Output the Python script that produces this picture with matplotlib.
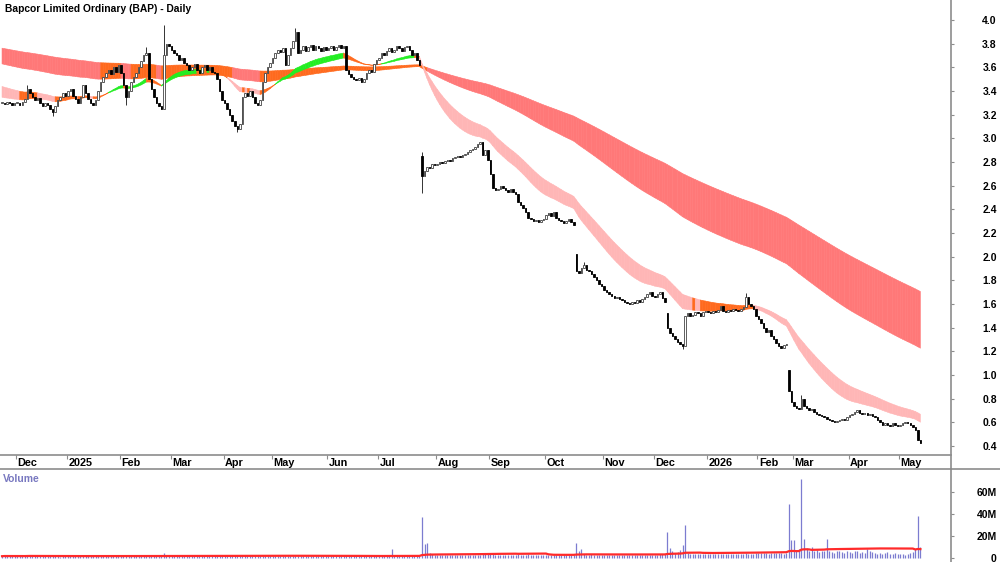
import numpy as np
import pandas as pd
import matplotlib
matplotlib.use("Agg")
import matplotlib.pyplot as plt
from matplotlib.collections import PolyCollection
from matplotlib.lines import Line2D

plt.rcParams['font.family'] = ['Liberation Sans', 'DejaVu Sans']

# daily closes, one list per month
close_nov24 = [3.30, 3.29, 3.31, 3.30, 3.28, 3.30]
close_dec24 = [3.30, 3.28, 3.31, 3.33, 3.42, 3.38, 3.35, 3.32, 3.34, 3.30,
               3.27, 3.30, 3.28, 3.25, 3.22, 3.27, 3.32, 3.35, 3.38, 3.36]
close_jan25 = [3.40, 3.42, 3.36, 3.33, 3.30, 3.35, 3.45, 3.38, 3.33, 3.30, 3.28,
               3.32, 3.40, 3.48, 3.52, 3.55, 3.58, 3.54, 3.60, 3.56, 3.62]
close_feb25 = [3.55, 3.45, 3.35, 3.40, 3.48, 3.52, 3.55, 3.60, 3.65, 3.70,
               3.72, 3.50, 3.42, 3.35, 3.30, 3.27, 3.25, 3.70, 3.80, 3.78]
close_mar25 = [3.75, 3.72, 3.70, 3.66, 3.68, 3.64, 3.62, 3.58, 3.60, 3.63, 3.58,
               3.55, 3.60, 3.62, 3.58, 3.60, 3.56, 3.55, 3.50, 3.40, 3.32]
close_apr25 = [3.30, 3.25, 3.20, 3.15, 3.10, 3.08, 3.12, 3.35, 3.38, 3.36,
               3.40, 3.35, 3.30, 3.28, 3.32, 3.48, 3.55, 3.60, 3.64]
close_may25 = [3.68, 3.72, 3.75, 3.73, 3.76, 3.62, 3.70, 3.76, 3.82, 3.90, 3.72,
               3.75, 3.78, 3.74, 3.77, 3.79, 3.75, 3.78, 3.76, 3.74, 3.77, 3.75]
close_jun25 = [3.76, 3.78, 3.75, 3.77, 3.79, 3.76, 3.78, 3.58, 3.54, 3.52,
               3.50, 3.49, 3.51, 3.48, 3.50, 3.55, 3.58, 3.56, 3.63, 3.66]
close_jul25 = [3.68, 3.72, 3.70, 3.74, 3.76, 3.73, 3.75, 3.78, 3.76, 3.74, 3.77, 3.78,
               3.75, 3.70, 3.72, 3.66, 3.62, 2.68, 2.72, 2.76, 2.75, 2.78, 2.77]
close_aug25 = [2.78, 2.80, 2.79, 2.81, 2.82, 2.81, 2.83, 2.84, 2.85, 2.84, 2.86,
               2.87, 2.88, 2.90, 2.91, 2.93, 2.95, 2.97, 2.86, 2.90, 2.82]
close_sep25 = [2.70, 2.58, 2.56, 2.57, 2.60, 2.58, 2.56, 2.55, 2.57, 2.55, 2.53,
               2.46, 2.44, 2.41, 2.38, 2.33, 2.32, 2.30, 2.31, 2.29, 2.31, 2.32]
close_oct25 = [2.35, 2.37, 2.34, 2.38, 2.33, 2.31, 2.30, 2.28, 2.30, 2.32, 2.29, 2.27,
               1.88, 1.86, 1.90, 1.93, 1.89, 1.88, 1.85, 1.83, 1.80, 1.77, 1.75]
close_nov25 = [1.72, 1.70, 1.68, 1.67, 1.65, 1.66, 1.64, 1.63, 1.62, 1.61,
               1.60, 1.62, 1.61, 1.63, 1.62, 1.64, 1.66, 1.68, 1.70, 1.67]
close_dec25 = [1.66, 1.68, 1.70, 1.65, 1.62, 1.40, 1.35, 1.33, 1.30, 1.28, 1.26,
               1.24, 1.50, 1.52, 1.50, 1.51, 1.53, 1.52, 1.50, 1.53, 1.54]
close_jan26 = [1.53, 1.52, 1.54, 1.53, 1.55, 1.58, 1.54, 1.53, 1.55, 1.54,
               1.56, 1.55, 1.54, 1.56, 1.57, 1.66, 1.60, 1.58, 1.56, 1.50]
close_feb26 = [1.47, 1.44, 1.40, 1.36, 1.38, 1.33, 1.30, 1.27, 1.24, 1.23,
               1.25, 1.26, 0.86, 0.77]
close_mar26 = [0.74, 0.72, 0.71, 0.80, 0.74, 0.72, 0.70, 0.71, 0.69, 0.67, 0.66,
               0.65, 0.64, 0.63, 0.62, 0.61, 0.60, 0.61, 0.62, 0.63, 0.62, 0.64]
close_apr26 = [0.66, 0.67, 0.69, 0.70, 0.68, 0.67, 0.68, 0.66, 0.67, 0.65,
               0.64, 0.62, 0.60, 0.58, 0.59, 0.58, 0.57, 0.59, 0.58, 0.57]
close_may26 = [0.58, 0.59, 0.60, 0.59, 0.58, 0.56, 0.53, 0.45, 0.42]

# volume in millions, same months
vol_nov24 = [1.2, 1.5, 1.3, 1.4, 1.2, 1.6]
vol_dec24 = [1.3, 1.1, 1.4, 1.2, 2.5, 1.5, 1.3, 1.2, 1.0, 1.4,
             1.2, 1.3, 1.1, 1.5, 1.6, 1.2, 1.0, 0.9, 1.3, 1.1]
vol_jan25 = [1.2, 1.4, 1.1, 1.3, 1.5, 1.2, 1.6, 1.3, 1.2, 1.1, 1.4,
             1.2, 1.5, 1.3, 1.4, 1.6, 1.2, 1.3, 1.5, 1.2, 1.4]
vol_feb25 = [1.5, 1.8, 1.6, 1.3, 1.4, 1.2, 1.5, 1.3, 1.6, 1.4,
             1.7, 2.0, 1.6, 1.5, 1.8, 1.6, 1.5, 4.2, 2.0, 1.6]
vol_mar25 = [1.5, 1.3, 1.6, 1.4, 1.2, 1.3, 1.5, 1.4, 1.2, 1.3, 1.6,
             1.4, 1.3, 1.2, 1.5, 1.4, 1.3, 1.6, 1.8, 2.2, 1.9]
vol_apr25 = [1.8, 2.0, 1.7, 1.9, 2.4, 2.2, 1.8, 2.6, 1.9, 1.6,
             1.5, 1.4, 1.6, 1.3, 1.5, 1.8, 1.7, 1.6, 1.5]
vol_may25 = [1.4, 1.3, 1.5, 1.2, 1.4, 1.6, 1.3, 1.5, 1.2, 1.4, 1.7,
             1.5, 1.3, 1.2, 1.4, 1.3, 1.5, 1.2, 1.1, 1.3, 1.4, 1.2]
vol_jun25 = [1.3, 1.2, 1.4, 1.1, 1.3, 1.2, 1.5, 2.1, 1.6, 1.4,
             1.3, 1.2, 1.5, 1.3, 1.4, 1.2, 1.6, 1.3, 1.2, 1.4]
vol_jul25 = [1.3, 1.2, 1.4, 1.3, 1.2, 7.5, 1.4, 1.3, 1.2, 1.5, 1.3, 1.4,
             1.2, 1.3, 1.5, 1.6, 1.8, 37.0, 12.0, 13.0, 4.0, 3.0, 2.6]
vol_aug25 = [2.5, 2.2, 2.4, 2.0, 2.3, 2.1, 2.6, 2.2, 2.4, 2.0, 2.3,
             2.5, 2.1, 2.2, 2.4, 2.6, 2.3, 2.5, 3.5, 2.8, 3.0]
vol_sep25 = [4.5, 3.2, 2.6, 2.4, 2.2, 2.5, 2.3, 2.1, 2.4, 2.2, 2.6,
             2.8, 2.5, 2.3, 2.4, 2.9, 2.5, 2.2, 2.1, 2.3, 2.4, 2.2]
vol_oct25 = [2.3, 2.5, 2.2, 2.4, 2.1, 2.3, 2.6, 2.2, 2.0, 2.3, 2.5, 2.4,
             13.0, 6.0, 8.0, 3.0, 2.6, 2.4, 2.8, 2.5, 2.3, 2.6, 2.4]
vol_nov25 = [2.5, 2.2, 2.4, 2.6, 2.3, 2.1, 2.5, 2.4, 2.2, 2.0,
             2.3, 2.6, 2.4, 2.2, 2.5, 2.3, 2.1, 2.4, 2.6, 2.5]
vol_dec25 = [2.6, 2.4, 2.8, 3.0, 3.2, 23.0, 8.5, 6.0, 4.5, 5.0, 7.0,
             11.0, 30.0, 4.0, 3.5, 3.2, 2.8, 3.0, 3.4, 2.9, 3.1]
vol_jan26 = [3.2, 3.0, 3.5, 3.1, 3.3, 3.6, 3.2, 3.0, 3.4, 3.1,
             3.3, 3.5, 3.2, 3.0, 3.4, 4.2, 3.6, 3.3, 3.5, 4.0]
vol_feb26 = [4.2, 3.8, 4.5, 4.0, 3.6, 4.2, 3.9, 4.4, 4.1, 3.8,
             3.6, 3.9, 49.0, 16.0]
vol_mar26 = [16.0, 6.5, 8.0, 72.0, 17.0, 8.5, 6.0, 10.0, 5.5, 6.5, 5.0,
             6.0, 5.5, 17.0, 6.0, 5.0, 4.5, 5.5, 6.0, 5.0, 4.5, 5.5]
vol_apr26 = [5.0, 4.5, 6.0, 5.5, 4.0, 5.0, 4.5, 8.0, 6.0, 5.0,
             4.5, 3.5, 4.0, 3.0, 4.5, 5.0, 3.5, 3.0, 4.0, 3.5]
vol_may26 = [3.0, 3.5, 2.5, 3.0, 4.0, 5.0, 8.0, 38.0, 10.0]

# bars that gapped on the open, and notable wicks (bar index: price)
gap_opens = {166: 2.85, 227: 2.02, 263: 1.52, 311: 1.04}
wick_highs = {10: 3.45, 57: 3.77, 64: 3.96, 116: 3.93, 166: 2.88, 230: 1.95,
              294: 1.69, 316: 0.83}
wick_lows = {20: 3.19, 49: 3.28, 93: 3.05, 166: 2.54, 269: 1.22}

# ribbon edges at the left edge of the chart (fast -> slow)
short_start = [3.35, 3.37, 3.39, 3.41, 3.43, 3.445]
long_start = [3.634, 3.66, 3.69, 3.71, 3.74, 3.766]
short_periods = [28, 30, 32, 35, 38, 42]
long_periods = [135, 150, 165, 185, 205, 230]

month_labels = ["Dec", "2025", "Feb", "Mar", "Apr", "May", "Jun", "Jul", "Aug",
                "Sep", "Oct", "Nov", "Dec", "2026", "Feb", "Mar", "Apr", "May"]
month_bars = [6, 26, 47, 67, 88, 107, 129, 149, 172, 193, 215, 238, 258, 279,
              299, 313, 335, 355]

closes = np.array(close_nov24 + close_dec24 + close_jan25 + close_feb25 + close_mar25
                  + close_apr25 + close_may25 + close_jun25 + close_jul25 + close_aug25
                  + close_sep25 + close_oct25 + close_nov25 + close_dec25 + close_jan26
                  + close_feb26 + close_mar26 + close_apr26 + close_may26)
volume = np.array(vol_nov24 + vol_dec24 + vol_jan25 + vol_feb25 + vol_mar25
                  + vol_apr25 + vol_may25 + vol_jun25 + vol_jul25 + vol_aug25
                  + vol_sep25 + vol_oct25 + vol_nov25 + vol_dec25 + vol_jan26
                  + vol_feb26 + vol_mar26 + vol_apr26 + vol_may26)
n = len(closes)
x = np.arange(n)

opens = np.concatenate([[closes[0]], closes[:-1]])
for b, v in gap_opens.items():
    opens[b] = v
highs = np.maximum(opens, closes)
lows = np.minimum(opens, closes)
for b, v in wick_highs.items():
    highs[b] = v
for b, v in wick_lows.items():
    lows[b] = v


def ema(values, period, start):
    a = 2.0 / (period + 1)
    out = np.empty(len(values))
    prev = start
    for i, v in enumerate(values):
        prev = prev + a * (v - prev)
        out[i] = prev
    return out


def ribbon(starts, periods):
    return np.array([ema(closes, p, s) for p, s in zip(periods, starts)])


GREEN = "#22EE22"
ORANGE = "#FF6A1E"
RED = "#FF7878"
PINK = "#FFB6B6"

long_lines = ribbon(long_start, long_periods)
short_lines = ribbon(short_start, short_periods)
long_lo, long_hi = long_lines.min(axis=0), long_lines.max(axis=0)
short_lo, short_hi = short_lines.min(axis=0), short_lines.max(axis=0)

# short ribbon: green when rising in bull order, pink when falling with price under it
prev = np.column_stack([short_start, short_lines[:, :-1]])
d = short_lines - prev
gaps = np.diff(short_lines, axis=0)
short_cols = []
for i in range(n):
    if (d[:, i] > 0).all() and (gaps[:, i] < 0).all():
        short_cols.append(GREEN)
    elif (d[:, i] < 0).all() and (gaps[:, i] > 0).all() and closes[i] < short_lo[i] - 0.02:
        short_cols.append(PINK)
    else:
        short_cols.append(ORANGE)

# long ribbon: orange once price gets above it, red again when short ribbon falls below
long_cols = []
state = RED
for i in range(n):
    if closes[i] > long_lo[i]:
        state = ORANGE
    elif short_hi[i] < long_lo[i] - 0.03:
        state = RED
    long_cols.append(state)


def draw_ribbon(ax, lo, hi, cols, z):
    verts = []
    for i in range(n - 1):
        verts.append([(i, lo[i]), (i + 1, lo[i + 1]), (i + 1, hi[i + 1]), (i, hi[i])])
    fc = cols[1:]
    pc = PolyCollection(verts, facecolors=fc, edgecolors=fc, linewidths=0.4, zorder=z)
    ax.add_collection(pc)


W, H = 1000, 562
fig = plt.figure(figsize=(W / 100, H / 100), dpi=100)
GREY = "#8C8C8C"
xmin, xmax = -0.8, 375.1

# price panel
ax = fig.add_axes([0, (H - 454) / H, 951 / W, 454 / H])
ax.set_xlim(xmin, xmax)
ax.set_ylim(0.331, 4.169)
draw_ribbon(ax, long_lo, long_hi, long_cols, 1)
draw_ribbon(ax, short_lo, short_hi, short_cols, 2)

up = closes >= opens
body_lo = np.minimum(opens, closes)
body_h = np.maximum(np.abs(closes - opens), 0.006)
ax.vlines(x, lows, highs, color="#333333", lw=0.7, zorder=3)
ax.bar(x[up], body_h[up], bottom=body_lo[up], width=0.6, facecolor="white",
       edgecolor="#444444", linewidth=0.6, zorder=4)
ax.bar(x[~up], body_h[~up], bottom=body_lo[~up], width=0.6, facecolor="black",
       edgecolor="black", linewidth=0.6, zorder=4)

for s in ax.spines.values():
    s.set_visible(False)
ax.set_xticks([])
ax.yaxis.tick_right()
ax.set_yticks(np.round(np.arange(0.4, 4.01, 0.2), 1))
ax.set_yticklabels([f"{v:.1f}" for v in np.arange(0.4, 4.01, 0.2)])
ax.tick_params(axis="y", length=2.5, width=0.8, color=GREY, pad=30.5,
               labelsize=7.5)
plt.setp(ax.get_yticklabels(), ha="right", fontweight="bold")

# date strip
axd = fig.add_axes([0, (H - 469) / H, 951 / W, 14 / H])
axd.set_xlim(xmin, xmax)
axd.set_ylim(0, 1)
axd.set_yticks([])
axd.spines["left"].set_visible(False)
axd.spines["right"].set_visible(False)
for side in ("top", "bottom"):
    axd.spines[side].set_color(GREY)
    axd.spines[side].set_linewidth(1.2)
axd.set_xticks(np.array(month_bars) - 0.4)
axd.tick_params(axis="x", top=True, bottom=False, direction="in", length=3,
                color=GREY, labelbottom=False)
for b, lab in zip(month_bars, month_labels):
    axd.text(b + 0.2, 0.42, lab, ha="left", va="center", fontsize=7.8,
             fontweight="bold")

# volume panel
axv = fig.add_axes([0, 0, 951 / W, 92 / H])
axv.set_xlim(xmin, xmax)
axv.set_ylim(-4.1, 80)
axv.vlines(x, 0, volume, color="#7C7CD0", lw=0.9)
vol_ma = pd.Series(volume).rolling(50, min_periods=1).mean()
axv.plot(x, vol_ma, color="#FF2A2A", lw=1.6)
for s in axv.spines.values():
    s.set_visible(False)
axv.set_xticks([])
axv.yaxis.tick_right()
axv.set_yticks([0, 20, 40, 60])
axv.set_yticklabels(["0", "20M", "40M", "60M"])
axv.tick_params(axis="y", length=2.5, width=0.8, color=GREY, pad=30.5,
                labelsize=7.5)
plt.setp(axv.get_yticklabels(), ha="right", fontweight="bold")
axv.text(0.003, 0.9, "Volume", transform=axv.transAxes, color="#7878C0",
         fontsize=7.5, fontweight="bold", va="center")

# frame lines
fig.add_artist(Line2D([951 / W, 951 / W], [0, 1], color=GREY, lw=1.2))
fig.add_artist(Line2D([951 / W, 1], [(H - 469) / H, (H - 469) / H], color=GREY, lw=1.2))

fig.text(0.005, 1 - 9 / H, "Bapcor Limited Ordinary (BAP) - Daily", fontsize=7.4,
         fontweight="bold", va="center", ha="left")

fig.savefig("out.png", dpi=100)
